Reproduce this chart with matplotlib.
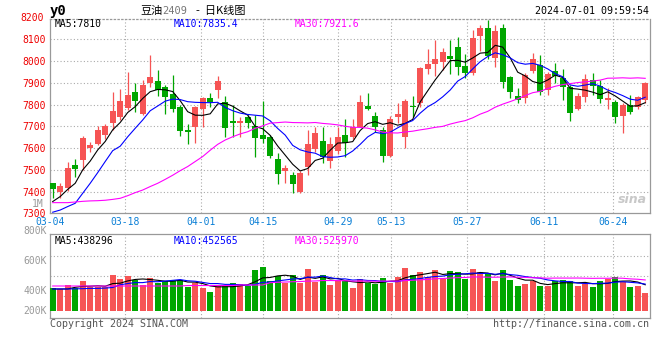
import matplotlib
matplotlib.use('Agg')
import matplotlib.pyplot as plt
import numpy as np
import pandas as pd

# ---------------- data ----------------
dates = ['03-04','03-05','03-06','03-07','03-08','03-11','03-12','03-13','03-14','03-15',
         '03-18','03-19','03-20','03-21','03-22','03-25','03-26','03-27','03-28','03-29',
         '04-01','04-02','04-03','04-08','04-09','04-10','04-11','04-12','04-15','04-16',
         '04-17','04-18','04-19','04-22','04-23','04-24','04-25','04-26','04-29','04-30',
         '05-06','05-07','05-08','05-09','05-10','05-13','05-14','05-15','05-16','05-17',
         '05-20','05-21','05-22','05-23','05-24','05-27','05-28','05-29','05-30','05-31',
         '06-03','06-04','06-05','06-06','06-07','06-11','06-12','06-13','06-14','06-17',
         '06-18','06-19','06-20','06-21','06-24','06-25','06-26','06-27','06-28','07-01']

opens = [7438, 7397, 7418, 7522, 7545, 7602, 7619, 7660, 7717, 7744,
         7783, 7859, 7755, 7898, 7908, 7879, 7849, 7787, 7683, 7698,
         7778, 7832, 7867, 7813, 7726, 7714, 7744, 7701, 7660, 7652,
         7550, 7495, 7476, 7400, 7515, 7594, 7633, 7542, 7588, 7660,
         7649, 7698, 7793, 7747, 7683, 7564, 7744, 7652, 7793, 7809,
         7962, 7987, 7997, 8023, 8063, 7977, 7947, 8117, 8151, 8014,
         8151, 7926, 7839, 7829, 7953, 7983, 7867, 7956, 7921, 7882,
         7778, 7836, 7913, 7885, 7821, 7813, 7747, 7798, 7787, 7821]
highs = [7438, 7441, 7538, 7548, 7656, 7630, 7702, 7711, 7859, 7870,
         7948, 7898, 7913, 8028, 7959, 7890, 7936, 7798, 7711, 7793,
         7836, 7855, 7931, 7839, 7798, 7744, 7752, 7752, 7818, 7660,
         7576, 7522, 7492, 7496, 7683, 7695, 7698, 7649, 7695, 7734,
         7732, 7844, 7855, 7767, 7698, 7747, 7806, 7824, 7839, 7971,
         8054, 8097, 8059, 8097, 8112, 8034, 8143, 8166, 8189, 8166,
         8171, 7931, 7875, 7944, 8037, 8029, 7951, 7990, 7962, 7890,
         7855, 7941, 7944, 7913, 7875, 7821, 7806, 7844, 7839, 7905]
lows = [7372, 7372, 7404, 7469, 7499, 7584, 7614, 7640, 7683, 7729,
        7775, 7767, 7752, 7882, 7839, 7755, 7767, 7656, 7619, 7625,
        7695, 7790, 7829, 7652, 7652, 7652, 7691, 7557, 7622, 7553,
        7435, 7438, 7392, 7395, 7476, 7584, 7530, 7510, 7573, 7557,
        7640, 7695, 7775, 7675, 7538, 7557, 7714, 7599, 7744, 7787,
        7941, 7931, 7959, 7941, 7936, 7921, 7936, 8048, 8008, 7971,
        7875, 7829, 7809, 7809, 7944, 7844, 7844, 7898, 7821, 7726,
        7775, 7813, 7844, 7806, 7778, 7717, 7671, 7757, 7778, 7809]
closes = [7412, 7427, 7507, 7504, 7648, 7614, 7683, 7702, 7772, 7816,
          7844, 7818, 7890, 7928, 7867, 7836, 7778, 7680, 7675, 7787,
          7832, 7813, 7908, 7691, 7717, 7725, 7717, 7645, 7640, 7564,
          7481, 7507, 7435, 7487, 7619, 7668, 7557, 7619, 7652, 7625,
          7695, 7813, 7778, 7695, 7564, 7732, 7757, 7818, 7787, 7967,
          7987, 8008, 8040, 8008, 7974, 7944, 8105, 8151, 8023, 8139,
          7902, 7860, 7821, 7936, 8011, 7856, 7941, 7931, 7882, 7763,
          7839, 7916, 7885, 7824, 7829, 7744, 7798, 7767, 7833, 7901]
volumes = [381, 365, 437, 381, 504, 398, 398, 398, 605, 538,
           588, 521, 437, 559, 475, 509, 521, 521, 408, 465,
           391, 324, 437, 420, 475, 454, 420, 689, 744, 509,
           588, 475, 605, 475, 706, 480, 605, 430, 521, 509,
           391, 538, 475, 454, 559, 475, 576, 727, 605, 660,
           576, 689, 538, 672, 660, 538, 706, 660, 622, 509,
           689, 521, 420, 454, 504, 420, 420, 504, 521, 504,
           420, 454, 398, 509, 538, 576, 492, 408, 420, 307]  # thousands of lots

# moving-average values before enough history exists
ma5_head = [7354, 7377, 7410, 7438]
ma10_head = [7305, 7315, 7331, 7346, 7392, 7438, 7487, 7538, 7588]
ma30_head = [7349, 7349, 7349, 7352, 7355, 7357, 7358, 7360, 7364, 7369,
             7381, 7395, 7407, 7423, 7438, 7456, 7475, 7496, 7515, 7538,
             7561, 7590, 7617, 7637, 7652, 7665, 7675, 7691, 7702]
vma5_head = [370, 370, 370, 398]
vma10_head = [370, 370, 370, 372, 375, 380, 380, 385, 395]
vma30_head = [420] * 18 + [428] * 7 + [437] * 4

tick_labels = ['03-04', '03-18', '04-01', '04-15', '04-29', '05-13', '05-27', '06-11', '06-24']
tick_pos = [-0.36, 9.68, 19.73, 28.0, 38.08, 45.07, 55.2, 65.5, 74.67]
price_ticks = [7300, 7400, 7500, 7600, 7700, 7800, 7900, 8000, 8100]


def moving(values, n, head):
    s = pd.Series(values, dtype=float).rolling(n).mean()
    s.iloc[:n - 1] = head
    return s.values


ma5 = moving(closes, 5, ma5_head)
ma10 = moving(closes, 10, ma10_head)
ma30 = moving(closes, 30, ma30_head)
vma5 = moving(volumes, 5, vma5_head)
vma10 = moving(volumes, 10, vma10_head)
vma30 = moving(volumes, 30, vma30_head)

# ---------------- figure ----------------
W, H = 660, 360
fig = plt.figure(figsize=(W / 100, H / 100), dpi=100)
fig.patch.set_facecolor('white')

MONO = 'DejaVu Sans Mono'
RED = '#f65454'
GREEN = '#00a600'
GRID = '#aaaaaa'
BORDER = '#999999'
XCOL = '#0a7fd6'


def px_axes(left, top, right, bottom):
    return fig.add_axes([left / W, 1 - bottom / H, (right - left) / W, (bottom - top) / H])


ax = px_axes(50, 19.3, 650, 213.3)
axv = px_axes(50, 234.3, 650, 318.3)

x = np.arange(len(dates))
o = np.array(opens, float); c = np.array(closes, float)
hi = np.array(highs, float); lo = np.array(lows, float)
up = c >= o
cols = np.where(up, RED, GREEN)

# candles
body_bottom = np.minimum(o, c)
body_h = np.maximum(np.abs(c - o), 4.0)
ax.vlines(x, lo, hi, colors=cols, linewidth=0.9, zorder=3)
ax.bar(x, body_h, bottom=body_bottom, width=0.8, color=cols, linewidth=0, zorder=4)

ax.plot(x, ma5, color='black', lw=0.8, zorder=5)
ax.plot(x, ma10, color='#0000ff', lw=0.8, zorder=5)
ax.plot(x, ma30, color='#ff00ff', lw=0.8, zorder=5)

ax.set_xlim(-0.36, 79.64)
ax.set_ylim(7300, 8192)

# grid
for t in price_ticks[1:]:
    ax.axhline(t, color=GRID, lw=0.8, ls=(0, (1, 2)), zorder=1)
for t in tick_pos[1:]:
    ax.axvline(t, color=GRID, lw=0.8, ls=(0, (1, 2)), zorder=1)
    axv.axvline(t, color=GRID, lw=0.8, ls=(0, (1, 2)), zorder=1)

for a in (ax, axv):
    for s in a.spines.values():
        s.set_color(BORDER)
        s.set_linewidth(0.9)
ax.spines['top'].set_linestyle((0, (1, 2)))

ax.set_yticks(price_ticks)
ax.set_yticklabels([str(t) for t in price_ticks])
ax.tick_params(axis='y', length=0, pad=3, labelcolor='#ee0000', labelsize=7)
ax.set_xticks(tick_pos)
ax.set_xticklabels(tick_labels)
ax.tick_params(axis='x', length=0, pad=3, labelcolor=XCOL, labelsize=7)
for lab in ax.get_xticklabels() + ax.get_yticklabels():
    lab.set_family(MONO)

ax.text(-0.01, 8200, '8200', transform=ax.get_yaxis_transform(), ha='right', va='center',
        color='#ee0000', fontsize=7, family=MONO, clip_on=False)
ax.text(-0.01, 7345, '1M', transform=ax.get_yaxis_transform(), ha='right', va='center',
        color='#999999', fontsize=7, family=MONO, clip_on=False)

# legends main
ax.text(5 / 600, 1 - 5 / 194, 'MA5:7810', transform=ax.transAxes, ha='left', va='center',
        fontsize=7, family=MONO, color='black')
ax.text(124 / 600, 1 - 5 / 194, 'MA10:7835.4', transform=ax.transAxes, ha='left', va='center',
        fontsize=7, family=MONO, color='#0000ff')
ax.text(245 / 600, 1 - 5 / 194, 'MA30:7921.6', transform=ax.transAxes, ha='left', va='center',
        fontsize=7, family=MONO, color='#ff00ff')

# sina watermark
ax.text(0.995, 0.04, 'sina', transform=ax.transAxes, ha='right', va='bottom', fontsize=9,
        fontweight='bold', style='italic', color='#c8c8c8', family='DejaVu Sans')

# volume
vol = np.array(volumes, float) * 1000
axv.bar(x, vol, width=0.8, color=cols, linewidth=0, zorder=3)
axv.plot(x, vma5 * 1000, color='black', lw=0.8, zorder=5)
axv.plot(x, vma10 * 1000, color='#0000ff', lw=0.8, zorder=5)
axv.plot(x, vma30 * 1000, color='#ff00ff', lw=0.8, zorder=5)
axv.set_xlim(-0.36, 79.64)
axv.set_ylim(-122640, 1288560)
for g in (257000, 593000, 929000):
    axv.axhline(g, color=GRID, lw=0.8, ls=(0, (1, 2)), zorder=1)
axv.set_xticks([]); axv.set_yticks([])

for lbl, ypx in [('800K', 230.7), ('600K', 260.5), ('400K', 290.7), ('200K', 310.7)]:
    fig.text(46.5 / W, 1 - ypx / H, lbl, ha='right', va='center', fontsize=7, family=MONO,
             color='#999999')

axv.text(5 / 600, 1 - 7 / 84, 'MA5:438296', transform=axv.transAxes, ha='left', va='center',
         fontsize=7, family=MONO, color='black')
axv.text(124 / 600, 1 - 7 / 84, 'MA10:452565', transform=axv.transAxes, ha='left', va='center',
         fontsize=7, family=MONO, color='#0000ff')
axv.text(245 / 600, 1 - 7 / 84, 'MA30:525970', transform=axv.transAxes, ha='left', va='center',
         fontsize=7, family=MONO, color='#ff00ff')

# header
fig.text(50 / W, 1 - 11 / H, 'y0', ha='left', va='center', fontsize=10, family=MONO,
         fontweight='bold', color='black')
fig.text(140 / W, 1 - 11 / H, '豆油', ha='left', va='center', fontsize=8,
         family=['Noto Sans CJK SC', 'DejaVu Sans'], color='black')
fig.text(162 / W, 1 - 11.5 / H, '2409', ha='left', va='center', fontsize=7.5, family=MONO,
         color='#777777')
fig.text(196 / W, 1 - 11 / H, '-  日K线图', ha='left', va='center', fontsize=8,
         family=['Noto Sans CJK SC', 'DejaVu Sans'], color='black')
fig.text(649 / W, 1 - 11.5 / H, '2024-07-01 09:59:54', ha='right', va='center', fontsize=7.2,
         family=MONO, color='black')

# footer
fig.text(50 / W, 1 - 324 / H, 'Copyright 2024 SINA.COM', ha='left', va='center', fontsize=7.2,
         family=MONO, color='#555555')
fig.text(649 / W, 1 - 324 / H, 'http://finance.sina.com.cn', ha='right', va='center',
         fontsize=7.2, family=MONO, color='#555555')

fig.savefig('out.png', dpi=100, facecolor='white')
